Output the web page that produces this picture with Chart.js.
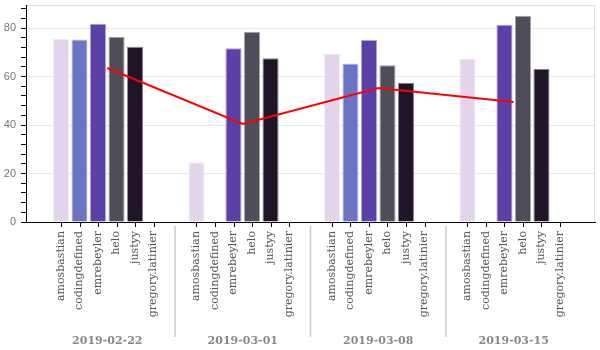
<!DOCTYPE html>
<html><head><meta charset="utf-8">
<script src="https://cdn.jsdelivr.net/npm/chart.js@4/dist/chart.umd.min.js"></script>
<style>html,body{margin:0;padding:0;background:#fff}</style>
</head><body>
<canvas id="c" width="600" height="350" style="display:block;width:600px;height:350px"></canvas>
<script>
// ---- data ----
const dates = ['2019-02-22', '2019-03-01', '2019-03-08', '2019-03-15'];
const names = ['amosbastian', 'codingdefined', 'emrebeyler', 'helo', 'justyy', 'gregory.latinier'];
const amosbastian     = [75.6, 24.6, 69.4, 67.3];
const codingdefined   = [75.3, null, 65.4, null];
const emrebeyler      = [81.8, 71.7, 75.1, 81.4];
const helo            = [76.4, 78.5, 64.6, 85.1];
const justyy          = [72.3, 67.5, 57.4, 63.2];
const gregoryLatinier = [null, null, null, null];
const lineValues      = [63.5, 40.4, 55.3, 49.5];
const yMajorTicks = [0, 20, 40, 60, 80];
const yMinorStep = 4;
const yMax = 89.5;

// ---- styles ----
const fills   = ['#e3d4ec', '#6b74c3', '#5b40a6', '#4f4d59', '#201528', '#999999'];
const borders = ['#f3ecf7', '#b9bde6', '#b1a2dc', '#a6a5ae', '#8d8496', '#cccccc'];

const series = [amosbastian, codingdefined, emrebeyler, helo, justyy, gregoryLatinier];

const barSets = names.map((n, d) => ({
  type: 'bar',
  label: n,
  data: series[d].map((v, i) => ({x: i, y: v})),
  backgroundColor: fills[d],
  borderColor: borders[d],
  borderWidth: 1,
  categoryPercentage: 0.82,
  barPercentage: 0.87,
  order: 1
}));

const lineSet = {
  type: 'line',
  label: 'avg',
  data: lineValues.map((v, i) => ({x: i, y: v})),
  borderColor: '#ff0000',
  borderWidth: 2,
  pointRadius: 0,
  fill: false,
  tension: 0,
  order: 0
};

const overlay = {
  id: 'overlay',
  beforeDatasetsDraw(chart) {
    const {ctx, chartArea: a} = chart;
    ctx.save();
    ctx.strokeStyle = '#e0e0e0';
    ctx.lineWidth = 1;
    ctx.beginPath();
    ctx.moveTo(a.left + 1, a.top + 0.5);
    ctx.lineTo(a.right - 0.5, a.top + 0.5);
    ctx.lineTo(a.right - 0.5, a.bottom);
    ctx.stroke();
    ctx.restore();
  },
  afterDraw(chart) {
    const {ctx, chartArea: a, scales: {x}} = chart;
    ctx.save();
    names.forEach((n, d) => {
      const meta = chart.getDatasetMeta(d + 1);
      meta.data.forEach(el => {
        const px = Math.round(el.x) + 0.5;
        ctx.strokeStyle = '#000';
        ctx.lineWidth = 1;
        ctx.beginPath();
        ctx.moveTo(px, a.bottom);
        ctx.lineTo(px, a.bottom + 5);
        ctx.stroke();
        ctx.save();
        ctx.translate(el.x, a.bottom + 9);
        ctx.rotate(-Math.PI / 2);
        ctx.font = '11px "DejaVu Serif"';
        ctx.fillStyle = '#555555';
        ctx.textAlign = 'right';
        ctx.textBaseline = 'middle';
        ctx.fillText(n, 0, 0);
        ctx.restore();
      });
    });
    ctx.strokeStyle = '#cccccc';
    ctx.lineWidth = 1.5;
    for (let i = 0; i < dates.length - 1; i++) {
      const px = x.getPixelForValue(i + 0.5);
      ctx.beginPath();
      ctx.moveTo(px, a.bottom + 4);
      ctx.lineTo(px, a.bottom + 115);
      ctx.stroke();
    }
    ctx.restore();
  }
};

new Chart(document.getElementById('c'), {
  data: {datasets: [lineSet, ...barSets]},
  options: {
    responsive: false,
    animation: false,
    devicePixelRatio: 1,
    layout: {padding: {top: 5, right: 5, left: 0, bottom: 0}},
    plugins: {legend: {display: false}, tooltip: {enabled: false}},
    scales: {
      x: {
        type: 'linear',
        offset: false,
        min: -0.6,
        max: 3.6,
        afterBuildTicks: s => { s.ticks = dates.map((d, i) => ({value: i})); },
        afterFit: s => { s.height = 128; s.paddingLeft = 0; s.paddingRight = 0; },
        grid: {display: true, offset: false, color: 'rgba(0,0,0,0)', drawTicks: false},
        border: {display: true, color: '#000', width: 1},
        ticks: {
          autoSkip: false,
          maxRotation: 0,
          padding: 113,
          color: '#888888',
          font: {family: '"DejaVu Serif"', size: 11, weight: 'bold'},
          callback: v => dates[v]
        }
      },
      y: {
        type: 'linear',
        min: 0,
        max: yMax,
        afterBuildTicks: s => {
          const t = [];
          for (let v = 0; v <= yMax; v += yMinorStep) t.push({value: v});
          s.ticks = t;
        },
        afterFit: s => { s.width = 26; s.paddingTop = 0; s.paddingBottom = 0; },
        grid: {
          color: c => (c.tick && c.tick.value !== 0 && yMajorTicks.includes(c.tick.value)) ? '#e6e6e6' : 'rgba(0,0,0,0)',
          tickColor: '#000',
          tickLength: 5,
          tickWidth: 1,
          drawTicks: true
        },
        border: {display: true, color: '#000', width: 1},
        ticks: {
          autoSkip: false,
          padding: 5,
          color: '#777777',
          font: {family: '"Liberation Sans", Arial, sans-serif', size: 11},
          callback: v => yMajorTicks.includes(v) ? String(v) : ''
        }
      }
    }
  },
  plugins: [overlay]
});
</script>
</body></html>
